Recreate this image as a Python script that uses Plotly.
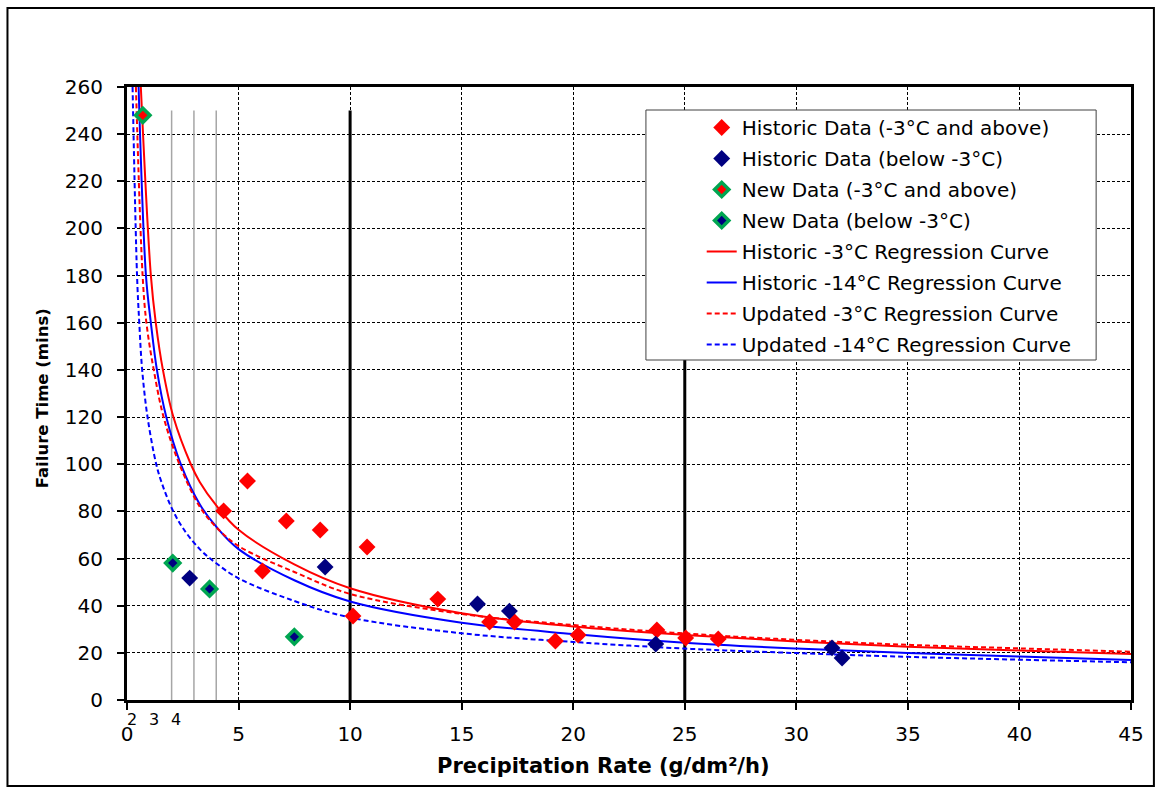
import plotly.graph_objects as go

# ---------------- data ----------------
hist_warm_x = [4.33, 5.40, 7.14, 8.66, 10.76, 6.07, 10.13, 13.93, 16.25, 17.37, 19.20, 20.22, 23.75, 25.04, 26.50]
hist_warm_y = [80.2, 92.9, 75.9, 72.1, 64.9, 54.7, 35.6, 42.8, 33.1, 33.1, 25.0, 27.6, 29.7, 26.3, 25.9]

hist_cold_x = [2.81, 8.88, 15.71, 17.14, 23.70, 31.60, 32.05]
hist_cold_y = [51.7, 56.4, 40.7, 37.7, 23.7, 22.1, 17.8]

new_warm_x = [0.71]
new_warm_y = [248.0]

new_cold_x = [2.05, 3.70, 7.50]
new_cold_y = [58.1, 47.1, 26.8]

# regression curves
reg_h3_x = [0.62, 1.07, 1.29, 1.61, 2.08, 2.86, 3.26, 4, 5, 7.5, 10, 15, 20, 25, 30, 35, 40, 45]
reg_h3_y = [260, 180, 160, 140, 120, 100, 92.5, 82.5, 72.2, 57.5, 47.4, 36.8, 31.2, 27.6, 24.8, 22.6, 21.0, 19.5]

reg_h14_x = [0.52, 0.85, 1.07, 1.34, 1.76, 2.41, 3.26, 4, 5, 7.5, 10, 15, 20, 25, 30, 35, 40, 45]
reg_h14_y = [260, 180, 160, 140, 120, 100, 83, 73.5, 64.0, 50.8, 41.8, 32.8, 28.0, 24.3, 21.8, 19.9, 18.4, 17.0]

reg_u3_x = [0.40, 0.70, 0.87, 1.20, 1.64, 2.35, 3.26, 4, 5, 7.5, 10, 15, 20, 25, 30, 35, 40, 45]
reg_u3_y = [260, 180, 160, 140, 120, 100, 82, 73.3, 65.3, 54.3, 45.0, 36.5, 31.8, 28.2, 25.5, 23.4, 21.9, 20.5]

reg_u14_x = [0.25, 0.45, 0.55, 0.68, 0.92, 1.31, 1.56, 2.0, 2.5, 3.26, 4, 5, 7.5, 10, 15, 20, 25, 30, 35, 40, 45]
reg_u14_y = [260, 180, 160, 140, 120, 100, 92.0, 81.5, 73.0, 64.0, 58.0, 51.6, 42.0, 35.0, 28.3, 24.6, 21.8, 19.9, 18.3, 17.1, 16.0]

gray_ref_x = [2, 3, 4]
black_ref_x = [10, 25]
ref_top = 250
minor_labels = ["2", "3", "4"]

x_ticks = [0, 5, 10, 15, 20, 25, 30, 35, 40, 45]
y_ticks = list(range(0, 261, 20))

x_title = "Precipitation Rate (g/dm²/h)"
y_title = "Failure Time (mins)"

RED = "#FF0000"
NAVY = "#000080"
GREEN = "#00A651"
BLUE = "#0000FF"

fig = go.Figure()

# reference vertical lines
for xv in gray_ref_x:
    fig.add_trace(go.Scatter(x=[xv, xv], y=[0, ref_top], mode="lines",
                             line=dict(color="#A6A6A6", width=1.5),
                             showlegend=False, hoverinfo="skip"))
for xv in black_ref_x:
    fig.add_trace(go.Scatter(x=[xv, xv], y=[0, ref_top], mode="lines",
                             line=dict(color="black", width=3),
                             showlegend=False, hoverinfo="skip"))

# regression curves
curves = [
    ("Historic -3°C Regression Curve", reg_h3_x, reg_h3_y, RED, "solid", 5),
    ("Historic -14°C Regression Curve", reg_h14_x, reg_h14_y, BLUE, "solid", 6),
    ("Updated -3°C Regression Curve", reg_u3_x, reg_u3_y, RED, "5px,3px", 7),
    ("Updated -14°C Regression Curve", reg_u14_x, reg_u14_y, BLUE, "5px,3px", 8),
]
for name, xs, ys, col, dash, rank in curves:
    fig.add_trace(go.Scatter(x=xs, y=ys, mode="lines", name=name,
                             line=dict(color=col, width=2, dash=dash, shape="spline", smoothing=1.0),
                             legendgroup=name, legendrank=rank))

# data points
fig.add_trace(go.Scatter(x=hist_warm_x, y=hist_warm_y, mode="markers",
                         name="Historic Data (-3°C and above)",
                         marker=dict(symbol="diamond", size=13, color=RED),
                         legendgroup="hw", legendrank=1))
fig.add_trace(go.Scatter(x=hist_cold_x, y=hist_cold_y, mode="markers",
                         name="Historic Data (below -3°C)",
                         marker=dict(symbol="diamond", size=13, color=NAVY),
                         legendgroup="hc", legendrank=2))
fig.add_trace(go.Scatter(x=new_warm_x, y=new_warm_y, mode="markers",
                         name="New Data (-3°C and above)",
                         marker=dict(symbol="diamond", size=11, color=RED,
                                     line=dict(color=GREEN, width=3.5)),
                         legendgroup="nw", legendrank=3))
fig.add_trace(go.Scatter(x=new_cold_x, y=new_cold_y, mode="markers",
                         name="New Data (below -3°C)",
                         marker=dict(symbol="diamond", size=11, color=NAVY,
                                     line=dict(color=GREEN, width=3.5)),
                         legendgroup="nc", legendrank=4))

# plot geometry helpers (pixels -> paper)
L, R, T, B = 127, 21, 87, 88
W, H = 1156 - L - R, 788 - T - B
def px(x):
    return (x - L) / W
def py(y):
    return (788 - B - y) / H

shapes = [
    # outer chart border
    dict(type="rect", xref="paper", yref="paper", x0=px(7), x1=px(1158), y0=py(786), y1=py(8),
         line=dict(color="black", width=2), fillcolor="rgba(0,0,0,0)", layer="below"),
    # legend box
    dict(type="rect", xref="paper", yref="paper", x0=px(648), x1=px(1100), y0=py(360), y1=py(110),
         line=dict(color="#404040", width=1), fillcolor="white", layer="above"),
]

annotations = [
    dict(x=xv, y=py(708), xref="x", yref="paper", yanchor="top", text=lab, showarrow=False, xshift=-40,
         font=dict(family="DejaVu Sans", size=16, color="black"))
    for xv, lab in zip(gray_ref_x, minor_labels)
]
annotations.append(dict(x=px(605), y=py(766), xref="paper", yref="paper",
                        xanchor="center", yanchor="middle", showarrow=False,
                        text="<b>" + x_title + "</b>",
                        font=dict(family="DejaVu Sans", size=21, color="black")))
annotations.append(dict(x=px(42), y=py(398), xref="paper", yref="paper",
                        xanchor="center", yanchor="middle", showarrow=False, textangle=-90,
                        text="<b>" + y_title + "</b>",
                        font=dict(family="DejaVu Sans", size=16.5, color="black")))

fig.update_layout(
    width=1156, height=788,
    margin=dict(l=L, r=R, t=T, b=B),
    paper_bgcolor="white", plot_bgcolor="white",
    font=dict(family="DejaVu Sans", color="black"),
    showlegend=True,
    legend=dict(x=px(704), y=py(108), xanchor="left", yanchor="top",
                bgcolor="rgba(0,0,0,0)", borderwidth=0,
                font=dict(family="DejaVu Sans", size=20, color="black"),
                traceorder="grouped", tracegroupgap=2),
    shapes=shapes,
    annotations=annotations,
    xaxis=dict(range=[0, 45], tickvals=x_ticks, ticktext=[str(v) for v in x_ticks],
               showgrid=True, gridcolor="black", griddash="3px,2px", gridwidth=1,
               showline=True, linecolor="black", linewidth=3, mirror=True,
               ticks="outside", ticklen=7, tickwidth=1.5, tickcolor="black",
               ticklabelstandoff=7,
               tickfont=dict(family="DejaVu Sans", size=20),
               zeroline=False),
    yaxis=dict(range=[0, 260], tickvals=y_ticks, ticktext=[str(v) for v in y_ticks],
               showgrid=True, gridcolor="black", griddash="3px,2px", gridwidth=1,
               showline=True, linecolor="black", linewidth=3, mirror=True,
               ticks="outside", ticklen=7, tickwidth=1.5, tickcolor="black",
               ticklabelstandoff=10,
               tickfont=dict(family="DejaVu Sans", size=20),
               zeroline=False),
)

fig.write_html("out.html")
